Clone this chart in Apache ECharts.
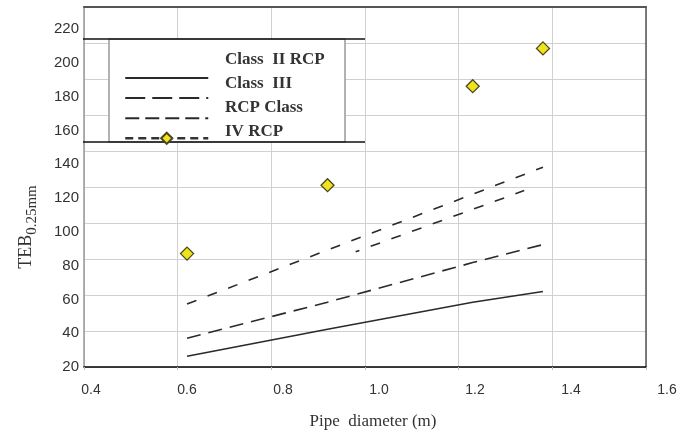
<!DOCTYPE html>
<html>
<head>
<meta charset="utf-8">
<script src="https://cdn.jsdelivr.net/npm/echarts@6/dist/echarts.min.js"></script>
<style>html,body{margin:0;padding:0;background:#fff;}#c{width:691px;height:434px;}</style>
</head>
<body>
<div id="c"></div>
<script>
// ---- data ----
const seriesNames = ['Class  II RCP', 'Class  III', 'RCP Class', 'IV RCP'];
const diameters = [0.62, 0.92, 1.23, 1.38];
const classII = [26, 41, 56, 62];
const classIII = [36, 56, 78, 88];
const classIV = [55, 85, 116, 131];
const classIVbX = [0.98, 1.34];
const classIVb = [84, 118];
const testValues = [83, 121, 176, 197];
const xTickLabels = ['0.4', '0.6', '0.8', '1.0', '1.2', '1.4', '1.6'];
const yTickLabels = ['20', '40', '60', '80', '100', '120', '140', '160', '180', '200', '220'];
const xTitle = 'Pipe  diameter (m)';
const yTitleMain = 'TEB';
const yTitleSub = '0.25mm';

const pairs = (xs, ys) => xs.map((x, i) => [x, ys[i]]);
const xMin = +xTickLabels[0], xMax = +xTickLabels[xTickLabels.length - 1];
const yMin = +yTickLabels[0], yMax = +yTickLabels[yTickLabels.length - 1];

const grid = '#d0d0d0';
const ink = '#2a2a2a';

const chart = echarts.init(document.getElementById('c'), null, {renderer: 'canvas'});
chart.setOption({
  backgroundColor: '#fff',
  animation: false,
  grid: [
    {left: 84, right: 45, top: 7, bottom: 67},
    {left: 91, right: 24, top: 374, height: 1},
    {left: 84, width: 1, top: 29, bottom: 67}
  ],
  xAxis: [
    {gridIndex: 0, type: 'value', min: xMin, max: xMax, interval: 0.2,
     axisLine: {show: true, lineStyle: {color: '#000', width: 1.5}},
     axisTick: {show: true, length: 3, lineStyle: {color: '#bbb'}},
     axisLabel: {show: false},
     splitLine: {show: true, lineStyle: {color: grid, width: 1}}},
    {gridIndex: 0, type: 'value', position: 'top', min: xMin, max: xMax,
     axisLine: {show: true, lineStyle: {color: '#555', width: 2}},
     axisTick: {show: false}, axisLabel: {show: false}, splitLine: {show: false}},
    {gridIndex: 1, type: 'value', min: xMin, max: xMax, interval: 0.2,
     axisLine: {show: false}, axisTick: {show: false}, splitLine: {show: false},
     axisLabel: {show: true, margin: 8, color: '#333', fontSize: 14, fontFamily: 'Liberation Sans',
       formatter: v => xTickLabels[Math.round((v - xMin) / 0.2)] || ''},
     name: xTitle, nameLocation: 'middle', nameGap: 38,
     nameTextStyle: {fontFamily: 'Liberation Serif', fontSize: 17, color: '#333', padding: [0, 12, 0, 0]}},
    {gridIndex: 2, type: 'value', show: false}
  ],
  yAxis: [
    {gridIndex: 0, type: 'value', min: yMin, max: yMax, interval: 20,
     axisLine: {show: true, lineStyle: {color: '#999', width: 1.5}},
     axisTick: {show: false}, axisLabel: {show: false},
     splitLine: {show: true, lineStyle: {color: grid, width: 1}}},
    {gridIndex: 0, type: 'value', position: 'right', min: yMin, max: yMax,
     axisLine: {show: true, lineStyle: {color: '#555', width: 1.5}},
     axisTick: {show: false}, axisLabel: {show: false}, splitLine: {show: false}},
    {gridIndex: 1, type: 'value', show: false},
    {gridIndex: 2, type: 'value', min: yMin, max: yMax, interval: 20,
     axisLine: {show: false}, axisTick: {show: false}, splitLine: {show: false},
     axisLabel: {show: true, margin: 5, color: '#333', fontSize: 15, fontFamily: 'Liberation Sans',
       formatter: v => yTickLabels[Math.round((v - yMin) / 20)] || ''}}
  ],
  legend: [
    {orient: 'vertical', left: 119, top: 66, itemWidth: 83, itemHeight: 14, itemGap: 7.5,
     selectedMode: false, formatter: () => '', textStyle: {fontSize: 1},
     data: [
       {name: seriesNames[0], itemStyle: {opacity: 0}},
       {name: seriesNames[1], itemStyle: {opacity: 0}, lineStyle: {type: [20, 7]}},
       {name: seriesNames[2], itemStyle: {opacity: 0}, lineStyle: {type: [14, 6]}},
       {name: seriesNames[3], lineStyle: {opacity: 1, type: [8, 5], color: '#333', width: 2.5}}
     ]},
    {orient: 'vertical', left: 214, top: 46, icon: 'rect', itemWidth: 0, itemHeight: 0, itemGap: 7,
     selectedMode: false,
     textStyle: {fontFamily: 'Liberation Serif', fontWeight: 'bold', fontSize: 17, lineHeight: 16, color: '#333'},
     data: seriesNames.slice()}
  ],
  graphic: [
    {type: 'rect', z: 1, shape: {x: 109, y: 39, width: 236, height: 103},
     style: {fill: '#fff', stroke: '#999', lineWidth: 1.5}},
    {type: 'line', z: 3, shape: {x1: 83, y1: 39, x2: 365, y2: 39}, style: {stroke: '#111', lineWidth: 1.5}},
    {type: 'line', z: 3, shape: {x1: 83, y1: 142, x2: 365, y2: 142}, style: {stroke: '#111', lineWidth: 1.5}},
    {type: 'text', x: 26, y: 227, rotation: Math.PI / 2,
     style: {text: '{a|' + yTitleMain + '}{b|' + yTitleSub + '}', align: 'center', verticalAlign: 'middle',
       rich: {a: {fontFamily: 'Liberation Serif', fontSize: 18, fill: '#333'},
              b: {fontFamily: 'Liberation Serif', fontSize: 15, fill: '#333', padding: [12, 0, 0, 0]}}}}
  ],
  series: [
    {name: seriesNames[0], type: 'line', symbol: 'none', data: pairs(diameters, classII),
     lineStyle: {color: ink, width: 1.5, type: 'solid'}, itemStyle: {color: ink}},
    {name: seriesNames[1], type: 'line', symbol: 'none', data: pairs(diameters, classIII),
     lineStyle: {color: ink, width: 1.6, type: [14, 8]}, itemStyle: {color: ink}},
    {name: seriesNames[2], type: 'line', symbol: 'none', data: pairs(diameters, classIV),
     lineStyle: {color: ink, width: 1.6, type: [10, 12]}, itemStyle: {color: ink}},
    {name: seriesNames[3], type: 'line', symbol: 'diamond', symbolSize: 13, data: pairs(diameters, testValues),
     lineStyle: {color: '#333', width: 1.5, type: [8, 5], opacity: 0},
     itemStyle: {color: '#efe31c', borderColor: '#4a4620', borderWidth: 1.3}, z: 5},
    {name: 'RCP Class (b)', type: 'line', symbol: 'none', data: pairs(classIVbX, classIVb),
     lineStyle: {color: ink, width: 1.6, type: [10, 12], dashOffset: 6}, itemStyle: {color: ink}}
  ]
});
</script>
</body>
</html>
